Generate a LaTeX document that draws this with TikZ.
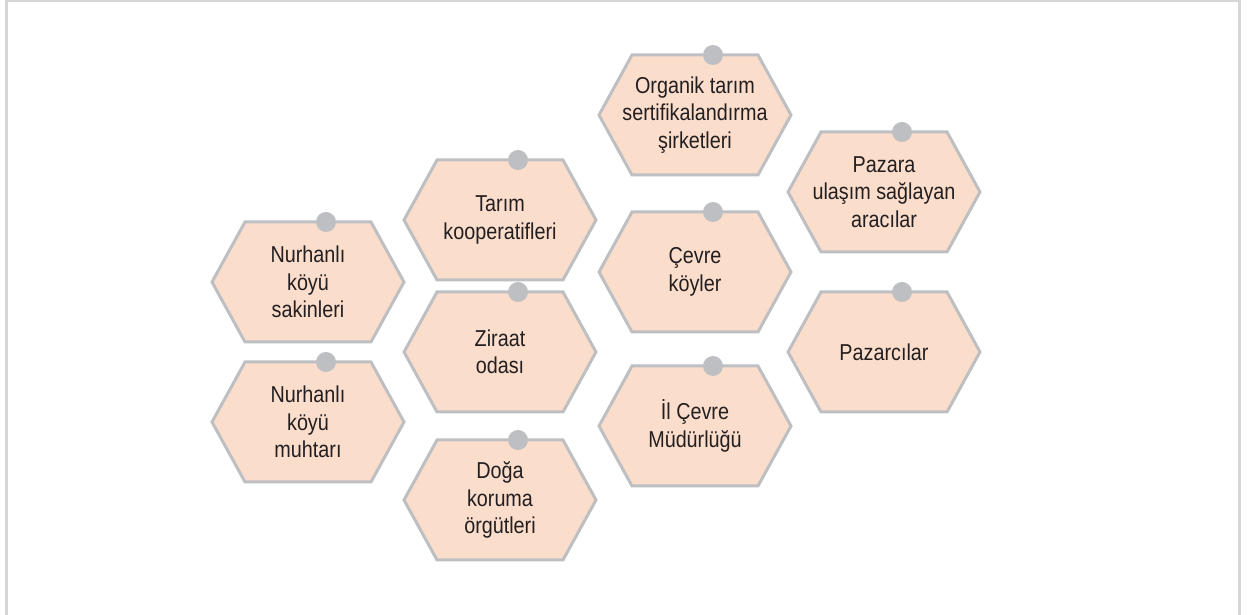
\documentclass[tikz,border=0pt]{standalone}
\usepackage{fontspec}
\setmainfont{Liberation Sans}[FakeStretch=0.86]
\definecolor{hexfill}{HTML}{FBDDCC}
\definecolor{hexline}{HTML}{BDBFC2}
\definecolor{frameline}{HTML}{D6D6D8}
\definecolor{txt}{HTML}{231F20}
\tikzset{
  hexlabel/.style={align=center, text=txt, font=\fontsize{23}{27.5}\selectfont, inner sep=0pt},
  hexpic/.pic={
    \filldraw[fill=hexfill, draw=hexline, line width=3pt, line join=miter]
      (-96,0) -- (-63,60) -- (63,60) -- (96,0) -- (63,-60) -- (-63,-60) -- cycle;
    \fill[hexline] (18,60) circle (10);
  }
}
\begin{document}
\begin{tikzpicture}[x=1pt,y=1pt]
\useasboundingbox (0,0) rectangle (1250,615);
\draw[frameline, line width=3pt] (6.5,-10) -- (6.5,614) -- (1239,614) -- (1239,-10);
% hexagons (image y converted: 615 - y)
\foreach \n/\x/\y in {a/308/282, b/308/422, c/500/220, d/500/352, e/500/500, f/695/115, g/695/272, h/695/426, i/884/192, j/884/352}{
  \pic at (\x,615-\y) {hexpic};
}
\node[hexlabel] (a) at (308,333) {Nurhanlı\\köyü\\sakinleri};
\node[hexlabel] (b) at (308,193) {Nurhanlı\\köyü\\muhtarı};
\node[hexlabel] (c) at (500,395) {Tarım\\kooperatifleri};
\node[hexlabel] (d) at (500,263) {Ziraat\\odası};
\node[hexlabel] (e) at (500,115) {Doğa\\koruma\\örgütleri};
\node[hexlabel] (f) at (695,500) {Organik tarım\\sertifikalandırma\\şirketleri};
\node[hexlabel] (g) at (695,343) {Çevre\\köyler};
\node[hexlabel] (h) at (695,189) {İl Çevre\\Müdürlüğü};
\node[hexlabel] (i) at (884,423) {Pazara\\ulaşım sağlayan\\aracılar};
\node[hexlabel] (j) at (884,263) {Pazarcılar};
\end{tikzpicture}
\end{document}
